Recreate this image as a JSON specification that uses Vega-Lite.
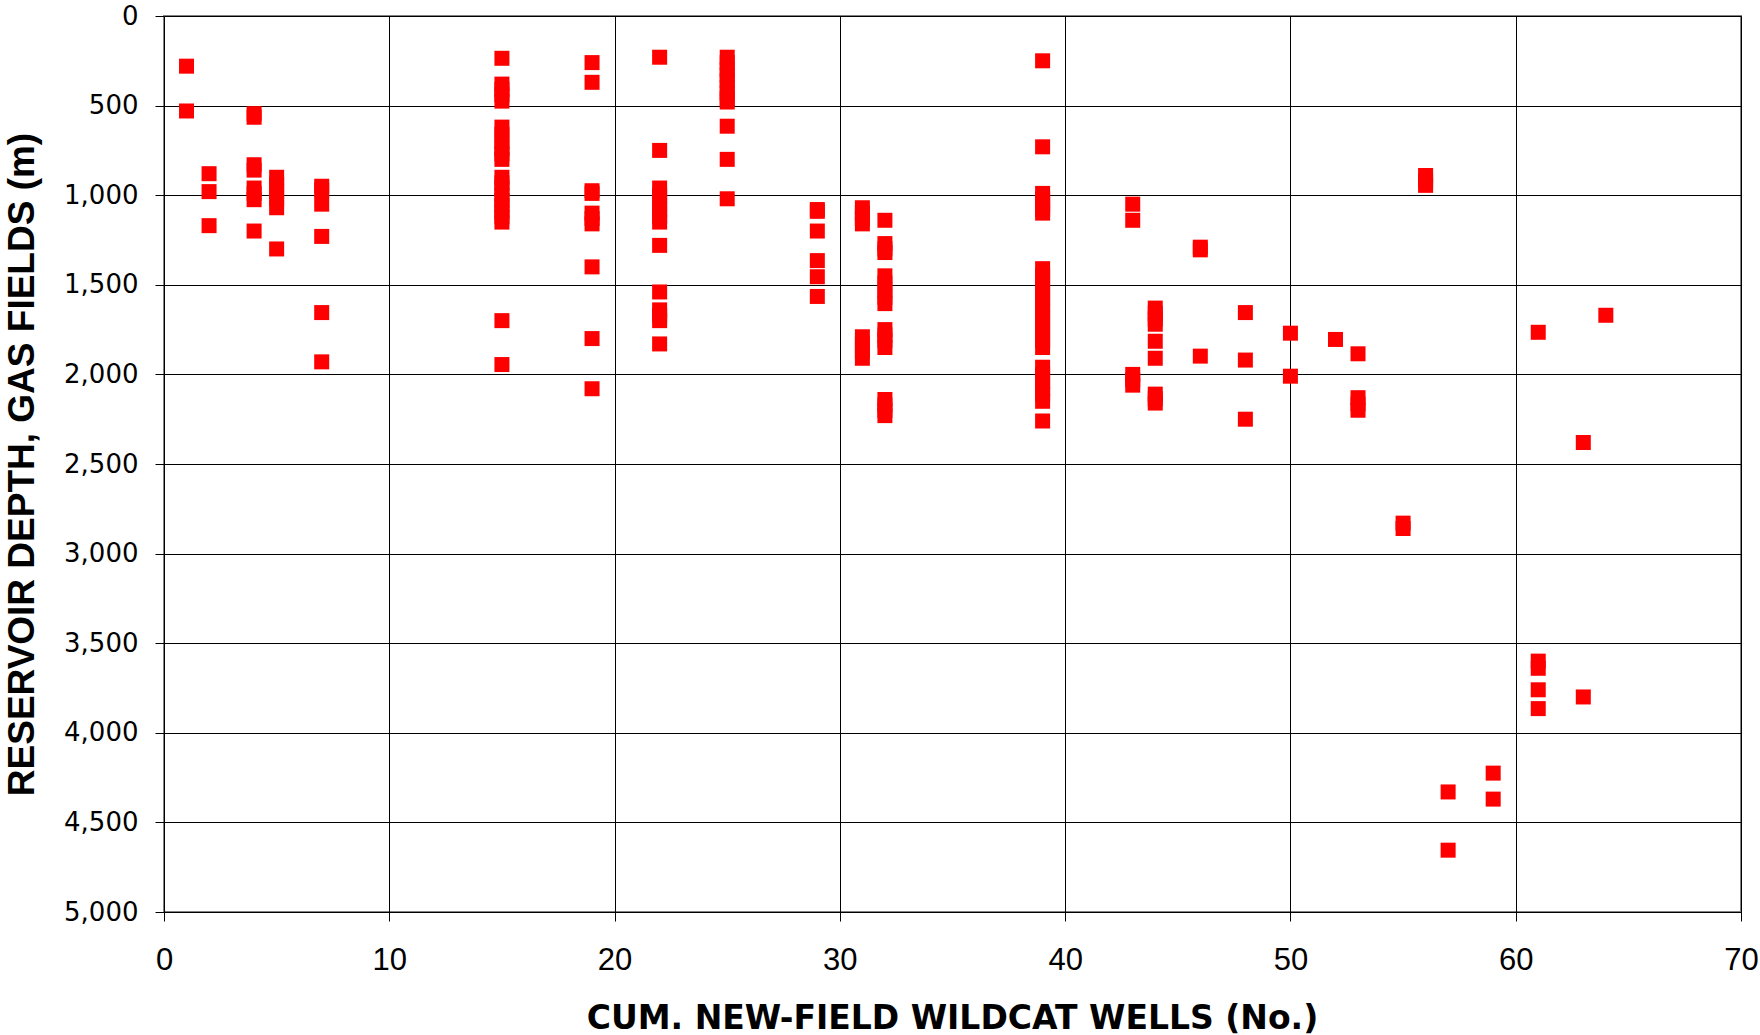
{
  "$schema": "https://vega.github.io/schema/vega-lite/v6.json",
  "autosize": {"type": "none"},
  "width": 1577,
  "height": 896,
  "padding": {"left": 164, "top": 16, "right": 19, "bottom": 123},
  "background": "white",
  "config": {
    "view": {"stroke": "#808080", "strokeWidth": 2},
    "axis": {"gridColor": "#000000", "gridWidth": 1, "gridOpacity": 1, "domain": false, "tickColor": "#000000", "tickSize": 9, "tickWidth": 1, "labelColor": "#000000", "titleColor": "#000000"}
  },
  "data": {
    "values": [
      {"wells": 1, "depth": 280}, {"wells": 1, "depth": 530},
      {"wells": 2, "depth": 880}, {"wells": 2, "depth": 980}, {"wells": 2, "depth": 1170},
      {"wells": 4, "depth": 545}, {"wells": 4, "depth": 565}, {"wells": 4, "depth": 830}, {"wells": 4, "depth": 860}, {"wells": 4, "depth": 960}, {"wells": 4, "depth": 990}, {"wells": 4, "depth": 1025}, {"wells": 4, "depth": 1200},
      {"wells": 5, "depth": 900}, {"wells": 5, "depth": 940}, {"wells": 5, "depth": 980}, {"wells": 5, "depth": 1020}, {"wells": 5, "depth": 1070}, {"wells": 5, "depth": 1300},
      {"wells": 7, "depth": 950}, {"wells": 7, "depth": 970}, {"wells": 7, "depth": 1050}, {"wells": 7, "depth": 1230}, {"wells": 7, "depth": 1655}, {"wells": 7, "depth": 1930},
      {"wells": 15, "depth": 236}, {"wells": 15, "depth": 380}, {"wells": 15, "depth": 410}, {"wells": 15, "depth": 440}, {"wells": 15, "depth": 475}, {"wells": 15, "depth": 620}, {"wells": 15, "depth": 660}, {"wells": 15, "depth": 700}, {"wells": 15, "depth": 740}, {"wells": 15, "depth": 770}, {"wells": 15, "depth": 800}, {"wells": 15, "depth": 900}, {"wells": 15, "depth": 930}, {"wells": 15, "depth": 960}, {"wells": 15, "depth": 1000}, {"wells": 15, "depth": 1030}, {"wells": 15, "depth": 1060}, {"wells": 15, "depth": 1090}, {"wells": 15, "depth": 1120}, {"wells": 15, "depth": 1150}, {"wells": 15, "depth": 1700}, {"wells": 15, "depth": 1945},
      {"wells": 19, "depth": 260}, {"wells": 19, "depth": 370}, {"wells": 19, "depth": 975}, {"wells": 19, "depth": 990}, {"wells": 19, "depth": 1100}, {"wells": 19, "depth": 1130}, {"wells": 19, "depth": 1160}, {"wells": 19, "depth": 1400}, {"wells": 19, "depth": 1800}, {"wells": 19, "depth": 2080},
      {"wells": 22, "depth": 230}, {"wells": 22, "depth": 750}, {"wells": 22, "depth": 960}, {"wells": 22, "depth": 1000}, {"wells": 22, "depth": 1040}, {"wells": 22, "depth": 1080}, {"wells": 22, "depth": 1120}, {"wells": 22, "depth": 1150}, {"wells": 22, "depth": 1280}, {"wells": 22, "depth": 1540}, {"wells": 22, "depth": 1640}, {"wells": 22, "depth": 1670}, {"wells": 22, "depth": 1700}, {"wells": 22, "depth": 1830},
      {"wells": 25, "depth": 230}, {"wells": 25, "depth": 260}, {"wells": 25, "depth": 300}, {"wells": 25, "depth": 330}, {"wells": 25, "depth": 360}, {"wells": 25, "depth": 400}, {"wells": 25, "depth": 430}, {"wells": 25, "depth": 460}, {"wells": 25, "depth": 480}, {"wells": 25, "depth": 615}, {"wells": 25, "depth": 800}, {"wells": 25, "depth": 1020},
      {"wells": 29, "depth": 1080}, {"wells": 29, "depth": 1090}, {"wells": 29, "depth": 1200}, {"wells": 29, "depth": 1365}, {"wells": 29, "depth": 1455}, {"wells": 29, "depth": 1565},
      {"wells": 31, "depth": 1070}, {"wells": 31, "depth": 1100}, {"wells": 31, "depth": 1130}, {"wells": 31, "depth": 1160}, {"wells": 31, "depth": 1790}, {"wells": 31, "depth": 1830}, {"wells": 31, "depth": 1870}, {"wells": 31, "depth": 1910},
      {"wells": 32, "depth": 1140}, {"wells": 32, "depth": 1270}, {"wells": 32, "depth": 1300}, {"wells": 32, "depth": 1320}, {"wells": 32, "depth": 1450}, {"wells": 32, "depth": 1490}, {"wells": 32, "depth": 1530}, {"wells": 32, "depth": 1570}, {"wells": 32, "depth": 1605}, {"wells": 32, "depth": 1750}, {"wells": 32, "depth": 1780}, {"wells": 32, "depth": 1810}, {"wells": 32, "depth": 1850}, {"wells": 32, "depth": 2140}, {"wells": 32, "depth": 2170}, {"wells": 32, "depth": 2200}, {"wells": 32, "depth": 2230},
      {"wells": 39, "depth": 250}, {"wells": 39, "depth": 730}, {"wells": 39, "depth": 990}, {"wells": 39, "depth": 1020}, {"wells": 39, "depth": 1050}, {"wells": 39, "depth": 1080}, {"wells": 39, "depth": 1100}, {"wells": 39, "depth": 1410}, {"wells": 39, "depth": 1450}, {"wells": 39, "depth": 1490}, {"wells": 39, "depth": 1530}, {"wells": 39, "depth": 1570}, {"wells": 39, "depth": 1610}, {"wells": 39, "depth": 1650}, {"wells": 39, "depth": 1690}, {"wells": 39, "depth": 1730}, {"wells": 39, "depth": 1770}, {"wells": 39, "depth": 1810}, {"wells": 39, "depth": 1850}, {"wells": 39, "depth": 1960}, {"wells": 39, "depth": 2000}, {"wells": 39, "depth": 2040}, {"wells": 39, "depth": 2080}, {"wells": 39, "depth": 2110}, {"wells": 39, "depth": 2150}, {"wells": 39, "depth": 2260},
      {"wells": 43, "depth": 1050}, {"wells": 43, "depth": 1140}, {"wells": 43, "depth": 2000}, {"wells": 43, "depth": 2030}, {"wells": 43, "depth": 2060},
      {"wells": 44, "depth": 1630}, {"wells": 44, "depth": 1660}, {"wells": 44, "depth": 1690}, {"wells": 44, "depth": 1720}, {"wells": 44, "depth": 1815}, {"wells": 44, "depth": 1910}, {"wells": 44, "depth": 2110}, {"wells": 44, "depth": 2135}, {"wells": 44, "depth": 2160},
      {"wells": 46, "depth": 1290}, {"wells": 46, "depth": 1305}, {"wells": 46, "depth": 1898},
      {"wells": 48, "depth": 1655}, {"wells": 48, "depth": 1920}, {"wells": 48, "depth": 2250},
      {"wells": 50, "depth": 1770}, {"wells": 50, "depth": 2010},
      {"wells": 52, "depth": 1805},
      {"wells": 53, "depth": 1885}, {"wells": 53, "depth": 2130}, {"wells": 53, "depth": 2165}, {"wells": 53, "depth": 2200},
      {"wells": 55, "depth": 2830}, {"wells": 55, "depth": 2860},
      {"wells": 56, "depth": 890}, {"wells": 56, "depth": 920}, {"wells": 56, "depth": 945},
      {"wells": 57, "depth": 4330}, {"wells": 57, "depth": 4655},
      {"wells": 59, "depth": 4225}, {"wells": 59, "depth": 4370},
      {"wells": 61, "depth": 1765}, {"wells": 61, "depth": 3600}, {"wells": 61, "depth": 3640}, {"wells": 61, "depth": 3760}, {"wells": 61, "depth": 3865},
      {"wells": 63, "depth": 2380}, {"wells": 63, "depth": 3800},
      {"wells": 64, "depth": 1670}
    ]
  },
  "mark": {"type": "point", "shape": "square", "filled": true, "size": 225, "color": "#FF0000", "opacity": 1},
  "encoding": {
    "x": {
      "field": "wells", "type": "quantitative",
      "scale": {"domain": [0, 70], "nice": false, "zero": true},
      "axis": {
        "values": [0, 10, 20, 30, 40, 50, 60, 70],
        "format": "d",
        "title": "CUM. NEW-FIELD WILDCAT WELLS (No.)",
        "titleFont": "DejaVu Sans", "titleFontSize": 33, "titleFontWeight": "bold",
        "titleBaseline": "alphabetic", "titleY": 116, "titleX": 788,
        "labelFont": "Liberation Sans", "labelFontSize": 31, "labelPadding": 24,
        "labelFlush": false, "labelOverlap": false
      }
    },
    "y": {
      "field": "depth", "type": "quantitative",
      "scale": {"domain": [0, 5000], "reverse": true, "nice": false},
      "axis": {
        "values": [0, 500, 1000, 1500, 2000, 2500, 3000, 3500, 4000, 4500, 5000],
        "format": ",.0f",
        "title": "RESERVOIR DEPTH, GAS FIELDS (m)",
        "titleFont": "Liberation Sans", "titleFontSize": 37, "titleFontWeight": "bold",
        "titleAngle": -90, "titleBaseline": "alphabetic", "titleAlign": "center",
        "titleX": -131, "titleY": 448,
        "labelFont": "DejaVu Sans", "labelFontSize": 26, "labelPadding": 17,
        "labelFlush": false, "labelOverlap": false
      }
    }
  }
}
